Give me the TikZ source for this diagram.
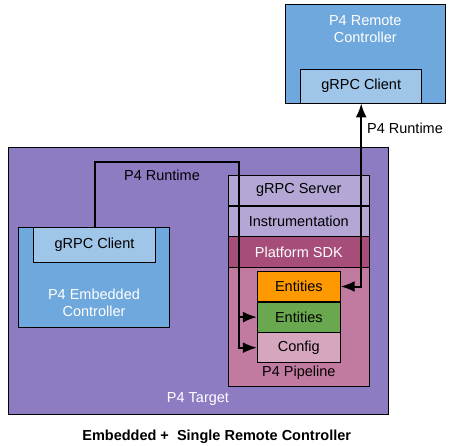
\documentclass[tikz,border=0pt]{standalone}
\usepackage{fontspec}
\setmainfont{Liberation Sans}
\usetikzlibrary{positioning,arrows.meta}

\definecolor{targetpurple}{HTML}{8E7CC3}
\definecolor{ctrlblue}{HTML}{6FA8DC}
\definecolor{clientblue}{HTML}{9FC5E8}
\definecolor{layerlilac}{HTML}{B4A7D6}
\definecolor{sdkplum}{HTML}{A64D79}
\definecolor{pipepink}{HTML}{C27BA0}
\definecolor{entorange}{HTML}{FF9900}
\definecolor{entgreen}{HTML}{6AA84F}
\definecolor{cfgpink}{HTML}{D5A6BD}

\begin{document}
\begin{tikzpicture}[
    x=1pt, y=-1pt,
    box/.style={rectangle, draw, line width=0.8pt, inner sep=0pt, font=\fontsize{14.5}{17}\selectfont},
    layer/.style={box, minimum width=141pt, minimum height=30pt},
    entity/.style={box, minimum width=83pt, minimum height=29.8pt},
    txt/.style={inner sep=0pt, font=\fontsize{14.5}{17}\selectfont, align=center},
    relation/.style={line width=2pt, -{Latex[length=14pt,width=11pt]}},
    bothways/.style={line width=2pt, {Latex[length=14pt,width=11pt]}-{Latex[length=14pt,width=11pt]}}
  ]

    \useasboundingbox (0,0) rectangle (452,446);

    \node[box, fill=targetpurple, minimum width=380.7pt, minimum height=267pt] (target) at (198.35,280.5) {};
    \node[txt, text=white] (targetlbl) at (198,399) {P4 Target};

    \node[box, fill=ctrlblue, minimum width=151pt, minimum height=100pt] (embedded) at (93.8,277.3) {};
    \node[box, fill=clientblue, minimum width=122.4pt, minimum height=35pt] (eclient) at (94.5,244.8) {gRPC Client};
    \node[txt, text=white] (embeddedlbl) at (94,303) {P4 Embedded\\Controller};

    \node[layer, fill=layerlilac] (server) at (298.8,190.3) {gRPC Server};
    \node[layer, fill=layerlilac, below=0pt of server] (instr) {Instrumentation};
    \node[layer, fill=sdkplum, text=white, below=0pt of instr] (sdk) {Platform SDK};
    \node[layer, fill=pipepink, minimum height=119pt, below=0pt of sdk] (pipe) {};
    \node[txt, above=7pt of pipe.south] (pipelbl) {P4 Pipeline};

    \node[entity, fill=entorange] (entA) at (298.8,286.5) {Entities};
    \node[entity, fill=entgreen, below=0pt of entA] (entB) {Entities};
    \node[entity, fill=cfgpink, below=0pt of entB] (config) {Config};

    \node[box, fill=ctrlblue, minimum width=160.7pt, minimum height=98.3pt] (remote) at (365.3,53.8) {};
    \node[txt, text=white] (remotelbl) at (365.3,29.5) {P4 Remote\\Controller};
    \node[box, fill=clientblue, minimum width=121pt, minimum height=34pt] (rclient) at (361.2,86) {gRPC Client};

    \coordinate (bend) at (238.5,162);
    \draw[relation] (eclient.north) |- (bend) |- (entB.west);
    \draw[relation] (bend) |- (config.west);
    \draw[bothways] (entA.east) -| (rclient.south);

    \node[txt] (rtlocal) at (162,175) {P4 Runtime};
    \node[txt] (rtremote) at (405,128) {P4 Runtime};

    \node[txt, font=\fontsize{14.5}{17}\selectfont\bfseries] (caption) at (216.7,436.7) {Embedded +~ Single Remote Controller};
  \end{tikzpicture}
\end{document}
